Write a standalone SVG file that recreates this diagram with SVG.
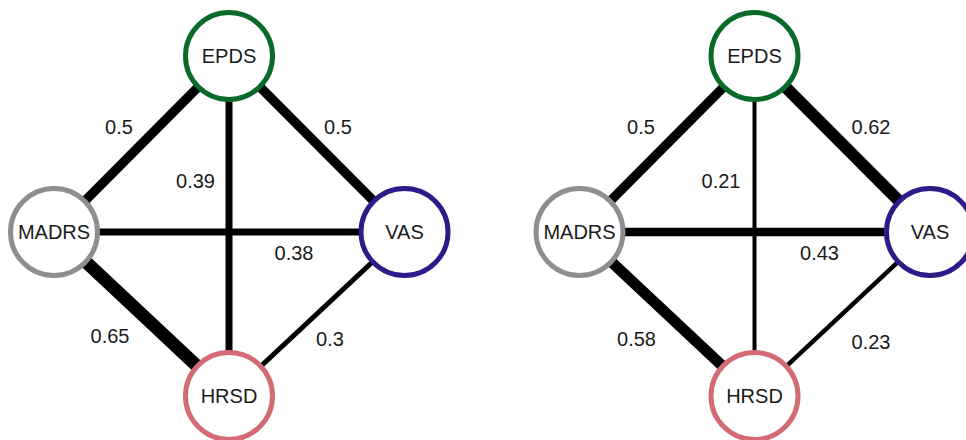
<svg xmlns="http://www.w3.org/2000/svg" width="966" height="440" viewBox="0 0 966 440">
<style>
.edge{stroke:#000;stroke-linecap:butt;fill:none}
.node circle{fill:#fff;stroke-width:5}
.nl{font-family:"Liberation Sans",Arial,sans-serif;font-size:20px;fill:#1a1a1a;text-anchor:middle}
.el{font-family:"Liberation Sans",Arial,sans-serif;font-size:20px;fill:#1a1a1a;text-anchor:middle}
.epds{stroke:#0a6a2a}
.madrs{stroke:#8e8e8e}
.vas{stroke:#2c1c8a}
.hrsd{stroke:#d36b74}
</style>
<rect width="966" height="440" fill="#fff"/>
<g id="connectors">
  <line class="edge" x1="229" y1="56" x2="54" y2="232" stroke-width="9.5"/>
  <line class="edge" x1="229" y1="56" x2="404.5" y2="232" stroke-width="9.5"/>
  <line class="edge" x1="229" y1="56" x2="229" y2="396" stroke-width="7"/>
  <line class="edge" x1="54" y1="232" x2="404.5" y2="232" stroke-width="7"/>
  <line class="edge" x1="54" y1="232" x2="229" y2="396" stroke-width="13"/>
  <line class="edge" x1="404.5" y1="232" x2="229" y2="396" stroke-width="5"/>
  <line class="edge" x1="754.5" y1="56" x2="579.5" y2="232" stroke-width="9.5"/>
  <line class="edge" x1="754.5" y1="56" x2="930" y2="232" stroke-width="12"/>
  <line class="edge" x1="754.5" y1="56" x2="754.5" y2="396" stroke-width="4"/>
  <line class="edge" x1="579.5" y1="232" x2="930" y2="232" stroke-width="8.5"/>
  <line class="edge" x1="579.5" y1="232" x2="754.5" y2="396" stroke-width="11"/>
  <line class="edge" x1="930" y1="232" x2="754.5" y2="396" stroke-width="4.5"/>
  <text class="el" x="119" y="134">0.5</text>
  <text class="el" x="338" y="134">0.5</text>
  <text class="el" x="195.5" y="188">0.39</text>
  <text class="el" x="294" y="260">0.38</text>
  <text class="el" x="110" y="342.5">0.65</text>
  <text class="el" x="330" y="346">0.3</text>
  <text class="el" x="641" y="134">0.5</text>
  <text class="el" x="871" y="134">0.62</text>
  <text class="el" x="721" y="188">0.21</text>
  <text class="el" x="819.5" y="260">0.43</text>
  <text class="el" x="636.5" y="346">0.58</text>
  <text class="el" x="871" y="349">0.23</text>
</g>
<g id="epds1" class="node"><circle class="epds" cx="229" cy="56" r="43.5"/><text class="nl" x="229" y="63">EPDS</text></g>
<g id="madrs1" class="node"><circle class="madrs" cx="54" cy="232" r="43.5"/><text class="nl" x="54" y="239">MADRS</text></g>
<g id="vas1" class="node"><circle class="vas" cx="404.5" cy="232" r="43.5"/><text class="nl" x="404.5" y="239">VAS</text></g>
<g id="hrsd1" class="node"><circle class="hrsd" cx="229" cy="396" r="43.5"/><text class="nl" x="229" y="403">HRSD</text></g>
<g id="epds2" class="node"><circle class="epds" cx="754.5" cy="56" r="43.5"/><text class="nl" x="754.5" y="63">EPDS</text></g>
<g id="madrs2" class="node"><circle class="madrs" cx="579.5" cy="232" r="43.5"/><text class="nl" x="579.5" y="239">MADRS</text></g>
<g id="vas2" class="node"><circle class="vas" cx="930" cy="232" r="43.5"/><text class="nl" x="930" y="239">VAS</text></g>
<g id="hrsd2" class="node"><circle class="hrsd" cx="754.5" cy="396" r="43.5"/><text class="nl" x="754.5" y="403">HRSD</text></g>
</svg>
